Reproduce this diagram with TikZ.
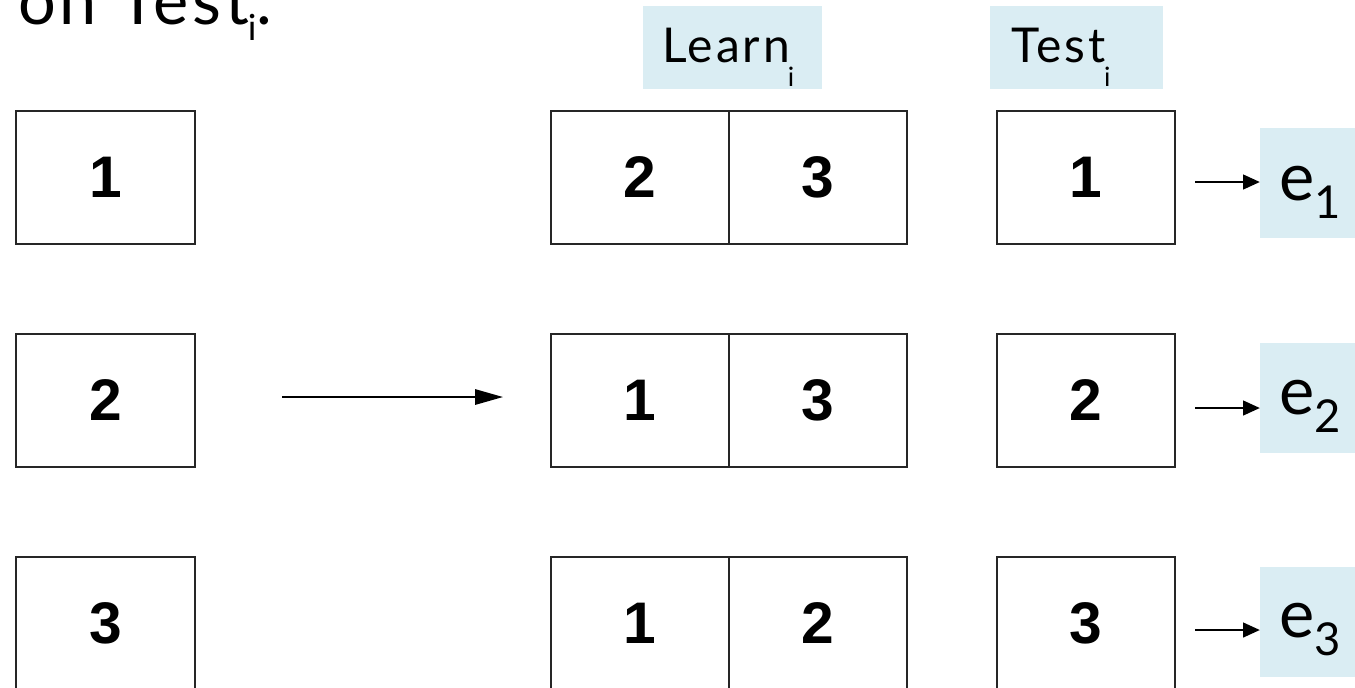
\documentclass[tikz,border=0pt]{standalone}
\usepackage{fontspec}
\setmainfont{Lato}[LetterSpace=6]
\newfontfamily\digitfont{Liberation Sans}
\usetikzlibrary{arrows.meta,calc}
\definecolor{lblue}{HTML}{DAEDF3}
\begin{document}
\begin{tikzpicture}[x=0.75pt,y=-0.75pt,
  cellbox/.style={draw=black!85, line width=1.5pt, inner sep=0pt, outer sep=0pt,
    minimum width=133.5pt, minimum height=99.75pt,
    font=\digitfont\bfseries\fontsize{44}{44}\selectfont},
  ebox/.style={fill=lblue, inner sep=0pt, outer sep=0pt, minimum width=82pt, minimum height=82.5pt},
  hbox/.style={fill=lblue, inner sep=0pt, outer sep=0pt, minimum width=134.25pt, minimum height=62.25pt},
  etxt/.style={inner sep=0pt, outer sep=0pt, anchor=base west, font=\fontsize{50}{50}\selectfont},
  htxt/.style={inner sep=0pt, outer sep=0pt, anchor=base west, font=\fontsize{36}{36}\selectfont},
  sarr/.style={line width=1.5pt, -{Triangle[length=12.5pt,width=11pt]}},
  barr/.style={line width=1.5pt, -{Triangle[length=21pt,width=11.5pt]}}
]
\useasboundingbox (0,0) rectangle (1355,687);
\fill[white] (0,0) rectangle (1355,687);

% top text (cropped)
\node[etxt] (top) at (18,24) {on Test\kern-1pt\raisebox{-12pt}{\fontsize{27}{27}\selectfont i}.};

% header labels
\node[hbox] (lb) at (732.5,47.5) {};
\node[htxt] (learn) at (662,62.5) {Learn\kern-1.5pt\raisebox{-18pt}{\fontsize{20}{20}\selectfont i}};
\node[hbox, minimum width=129.75pt] (tb) at (1076.5,47.5) {};
\node[htxt] (test) at (1011,62.5) {Test\kern-1pt\raisebox{-18pt}{\fontsize{20}{20}\selectfont i}};

% left boxes
\node[cellbox, minimum width=134.25pt] (l1) at (105.5,177.5) {1};
\node[cellbox, minimum width=134.25pt] (l2) at (105.5,400.5) {2};
\node[cellbox, minimum width=134.25pt] (l3) at (105.5,623.5) {3};

% learn boxes
\node[cellbox] (ma1) at (640,177.5) {2};
\node[cellbox] (mb1) at (818,177.5) {3};
\node[cellbox] (ma2) at (640,400.5) {1};
\node[cellbox] (mb2) at (818,400.5) {3};
\node[cellbox] (ma3) at (640,623.5) {1};
\node[cellbox] (mb3) at (818,623.5) {2};

% test boxes
\node[cellbox] (t1) at (1086,177.5) {1};
\node[cellbox] (t2) at (1086,400.5) {2};
\node[cellbox] (t3) at (1086,623.5) {3};

% error labels
\node[ebox] (eb1) at (1314.5,183) {};
\node[ebox] (eb2) at (1314.5,398) {};
\node[ebox] (eb3) at (1314.5,622) {};
\node[etxt] (e1) at (1279,200) {e\raisebox{-13.5pt}{\fontsize{34}{34}\selectfont 1}};
\node[etxt] (e2) at (1279,414) {e\raisebox{-13.5pt}{\fontsize{34}{34}\selectfont 2}};
\node[etxt] (e3) at (1279,637) {e\raisebox{-13.5pt}{\fontsize{34}{34}\selectfont 3}};

% arrows
\coordinate (r1) at (0,182);
\coordinate (r2) at (0,408);
\coordinate (r3) at (0,630);
\draw[sarr] ($(t1.east |- r1)+(20,0)$) -- (eb1.west |- r1);
\draw[sarr] ($(t2.east |- r2)+(20,0)$) -- (eb2.west |- r2);
\draw[sarr] ($(t3.east |- r3)+(20,0)$) -- (eb3.west |- r3);

\coordinate (a0) at (282,397);
\draw[barr] (a0) -- ($(ma2.west |- a0)+(-48,0)$);
\end{tikzpicture}
\end{document}
